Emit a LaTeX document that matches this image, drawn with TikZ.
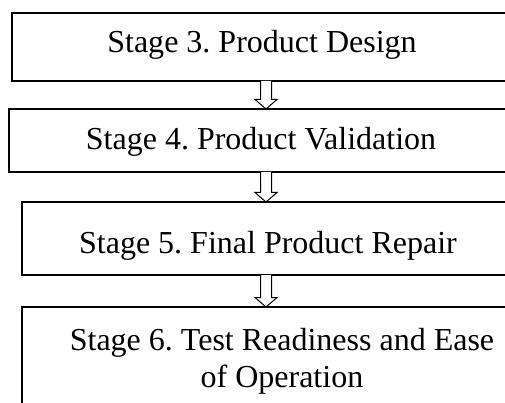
\documentclass[tikz,border=0pt]{standalone}
\usepackage{fontspec}
\setmainfont{Liberation Serif}
\usetikzlibrary{calc}
\frenchspacing
\begin{document}
\begin{tikzpicture}[x=1pt,y=-1pt,
  box/.style={draw=black,line width=1.1pt,inner sep=0pt,outer sep=0pt},
  lbl/.style={font=\fontsize{32}{37}\selectfont\frenchspacing,inner sep=0pt,anchor=base,align=center},
  blockarrow/.style={draw=black,line width=1pt,fill=white,line join=miter}]
\useasboundingbox[clip] (0,0) rectangle (505,403);
\fill[white] (0,0) rectangle (505,403);
% boxes
\node[box,minimum width=500pt,minimum height=68pt,anchor=north west] (b1) at (12,13) {};
\node[box,minimum width=504pt,minimum height=63pt,anchor=north west] (b2) at (9,109) {};
\node[box,minimum width=492pt,minimum height=73pt,anchor=north west] (b3) at (22,202) {};
\node[box,minimum width=520pt,minimum height=120pt,anchor=north west] (b4) at (22,307) {};
% texts
\node[lbl] (t1) at (262,53) {Stage 3. Product Design};
\node[lbl] (t2) at (261,150) {Stage 4. Product Validation};
\node[lbl] (t3) at (268,253) {Stage 5. Final Product Repair};
\node[lbl,anchor=north] (t4) at (282,328) {Stage 6. Test Readiness and Ease\\of Operation};
% arrows
\coordinate (ax) at (266,0);
\foreach \a/\b in {b1/b2,b2/b3,b3/b4}{
  \draw[blockarrow] ($(ax |- \a.south)+(-5.5,0)$) -- ($(ax |- \b.north)+(-5.5,-9.5)$)
     -- ($(ax |- \b.north)+(-11,-9.5)$) -- (ax |- \b.north)
     -- ($(ax |- \b.north)+(11,-9.5)$) -- ($(ax |- \b.north)+(5.5,-9.5)$)
     -- ($(ax |- \a.south)+(5.5,0)$);
}
\end{tikzpicture}
\end{document}
